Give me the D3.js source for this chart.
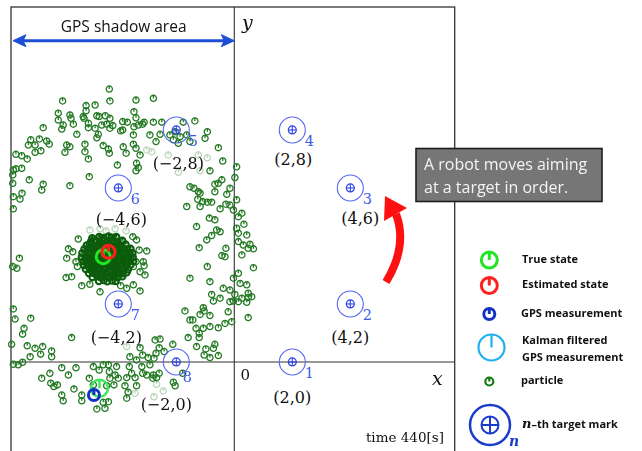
<!DOCTYPE html>
<html>
<head>
<meta charset="utf-8">
<script src="https://cdn.jsdelivr.net/npm/d3@7"></script>
<style>
  html, body { margin: 0; padding: 0; background: #fff; }
  svg { display: block; }
</style>
</head>
<body>
<svg id="chart" width="642" height="451"></svg>
<script>
// ---------- data (world coordinates, metres) ----------
const targetX = [2, 4, 4, 2, -2, -4, -4, -2];
const targetY = [0, 2, 6, 8, 8, 6, 2, 0];
const targetNumbers = ["1", "2", "3", "4", "5", "6", "7", "8"];
const targetCoordLabels = ["(2,0)", "(4,2)", "(4,6)", "(2,8)", "(−2,8)", "(−4,6)", "(−4,2)", "(−2,0)"];

// robot states [x, y, heading in degrees]
const trueState = [-4.52, 3.63, 90];
const estimatedState = [-4.34, 3.80, 90];
const gpsMeasurement = [-4.84, -1.14, 90];
const trueStateTrail = [-4.65, -0.91, 90];

// scattered particles
const particles = [
  [-4.31,9.41],[-5.92,9.00],[-4.29,9.00],[-5.11,8.84],[-4.80,8.86],[-5.11,8.66],[-6.07,8.58],[-5.67,8.52],
  [-5.21,8.46],[-4.74,8.49],[-4.45,8.49],[-6.07,8.34],[-5.63,8.40],[-5.18,8.40],[-4.66,8.46],[-4.29,8.40],
  [-5.90,8.17],[-5.55,8.20],[-5.03,8.23],[-4.57,8.17],[-4.40,8.20],[-4.19,8.15],[-6.59,8.08],[-5.95,8.03],
  [-5.03,8.08],[-4.80,8.06],[-4.29,8.06],[-3.92,7.97],[-5.43,7.85],[-4.69,7.85],[-4.74,7.73],[-7.02,7.66],
  [-6.72,7.69],[-6.47,7.62],[-6.38,7.51],[-7.10,7.48],[-6.87,7.48],[-5.78,7.48],[-5.67,7.42],[-5.15,7.51],
  [-4.52,7.46],[-4.34,7.34],[-6.87,7.23],[-6.67,7.28],[-5.84,7.23],[-5.15,7.25],[-4.31,7.20],[-7.53,7.16],
  [-7.33,7.11],[-7.14,7.00],[-5.03,7.00],[-4.03,6.79],[-7.62,6.62],[-7.53,6.66],[-7.33,6.68],[-7.64,6.45],
  [-5.00,6.39],[-7.07,6.28],[-7.64,6.16],[-6.59,6.13],[-6.64,5.93],[-5.67,6.08],[-7.32,5.82],[-7.62,5.70],
  [-7.39,5.62],[-7.62,5.28],
  [-3.39,9.03],[-2.79,9.09],[-3.46,8.63],[-3.39,8.42],[-3.85,8.29],[-3.69,8.27],[-3.46,8.11],[-3.31,8.17],
  [-3.16,8.20],[-3.11,8.27],[-2.79,8.27],[-2.50,8.27],[-1.76,8.27],[-1.36,8.31],[-3.85,8.00],[-3.48,7.83],
  [-2.91,7.83],[-2.56,7.85],[-2.22,7.83],[-2.04,7.94],[-1.87,7.77],[-1.64,7.83],[-0.93,7.94],[-1.01,7.71],
  [-2.70,7.60],[-2.10,7.66],[-1.93,7.54],[-1.53,7.60],[-3.48,7.51],[-3.39,7.37],[-3.83,7.42],[-3.73,7.20],
  [-0.55,7.39],[-3.25,7.14],[-0.40,6.93],[-3.37,6.85],[-3.31,6.70],[-3.39,6.59],[-0.84,6.59],[0.08,6.73],
  [0.02,6.36],[-0.43,6.28],[-0.67,6.13],[-0.55,6.16],[-1.53,6.04],[-1.39,5.99],[-1.24,5.87],[-1.18,5.82],
  [-0.15,5.99],[-0.67,5.87],[-0.26,5.78],[-1.26,5.61],[-1.09,5.53],[-0.93,5.51],[-0.78,5.51],[0.08,5.59],
  [-0.29,5.44],[-1.64,5.36],[-1.18,5.36],[-0.49,5.28],[-0.15,5.41],[-0.03,5.24],[0.26,5.13],[0.14,5.01],
  [-0.86,4.96],[-0.67,4.90],[-1.30,4.67],[-0.61,4.55],[-0.49,4.49],[0.08,4.61],[0.33,4.75],[0.14,4.44],
  [-0.78,4.36],[-0.95,4.21],[0.43,4.38],[-1.21,3.94],[-0.29,3.92],[0.14,4.15],[0.31,4.03],[0.54,4.06],
  [0.48,3.92],[0.66,3.90],[-0.43,3.67],[-0.32,3.63],[0.26,3.69],[-0.93,3.29],[0.66,3.25],[0.14,3.06],
  [-0.03,2.89],[-1.53,2.89],[-0.84,2.77],[0.20,2.71],[0.43,2.66],[-0.38,2.54],[-0.15,2.48],[0.02,2.33],
  [0.48,2.37],[0.60,2.25],[-0.78,2.33],
  [-7.41,3.58],[-7.50,3.23],[-7.64,3.29],
  [-5.38,4.24],[-5.72,3.90],[-5.57,3.80],[-5.78,3.58],[-5.46,3.46],[-5.41,3.29],[-3.37,4.21],[-3.28,3.86],
  [-3.02,3.83],[-3.14,3.46],[-3.11,3.32],[-3.08,3.00],[-3.25,3.11],[-5.80,2.91],[-5.61,2.94],[-5.26,2.63],
  [-4.98,2.68],[-4.63,2.42],[-3.71,2.54],[-3.48,2.66],[-3.25,2.45],[-3.92,2.63],[-3.50,4.32],[-3.48,3.29],
  [-3.39,3.46],
  [-7.62,1.83],[-7.56,1.48],[-7.02,1.51],[-7.25,1.16],[-7.30,0.96],[-7.68,0.61],[-7.14,0.56],[-6.87,0.47],
  [-6.61,0.53],[-7.04,0.18],[-6.68,0.27],[-6.30,0.38],[-6.30,0.18],[-5.61,0.84],[-7.62,-0.08],[-7.45,-0.10],
  [-7.30,-0.01],[-5.95,-0.20],[-5.46,-0.20],[-4.86,-0.16],[-6.64,-0.56],[-6.36,-0.39],[-6.33,-0.73],[-5.72,-0.45],
  [-5.00,-0.56],[-6.22,-0.85],[-6.10,-0.79],[-5.53,-0.93],[-5.95,-1.14],[-5.90,-1.34],[-5.26,-1.14],[-5.26,-1.34],
  [-4.74,-1.62],[-4.46,-1.60],[-4.52,-1.39],[-4.34,-1.37],[-4.66,-0.28],[-4.52,-0.10],[-4.34,-0.10],[-4.06,-0.16],
  [-4.31,-0.33],[-4.11,-0.45],[-4.00,-0.56],[-4.29,-0.56],[-4.15,-0.79],[-4.40,-0.82],[-4.86,-0.79],[-3.60,0.18],
  [-3.62,-0.16],[-3.54,-0.39],[-3.71,-0.54],[-3.42,-0.54],[-3.77,-0.82],[-3.66,-1.04],[-3.71,-1.25],[-3.37,-0.82],
  [-3.37,0.07],[-3.19,-0.16],[-3.16,-0.39],[-3.02,-0.45],[-3.25,0.49],[-3.16,0.24],[-2.97,0.15],[-2.91,-0.10],
  [-2.79,-0.45],[-2.81,-0.56],[-2.68,-0.54],[-2.59,-0.39],[-2.77,0.13],[-2.70,0.30],[-2.59,0.49],[-2.73,0.76],
  [-2.56,0.79],[-2.42,0.36],[-2.12,0.61],[-2.10,-0.70],[-2.04,-0.82],[-1.78,-0.39],[-1.70,1.76],[-1.53,1.45],
  [-1.43,1.45],[-1.18,1.64],[-1.04,1.76],[-0.84,1.60],[-1.07,1.87],[-0.72,2.10],[-0.49,2.20],[-0.21,1.73],
  [-0.15,2.08],[0.48,1.53],[-1.32,1.16],[-1.21,0.99],[-1.07,1.16],[-0.84,1.22],[-0.55,1.18],[-0.32,1.33],
  [-0.09,1.39],[-1.59,0.84],[-1.21,0.84],[-1.30,0.53],[-0.98,0.45],[-0.72,0.47],[-0.67,0.61],[-1.04,0.24],
  [-0.84,0.15],[-0.55,0.22],[-0.03,2.10],[0.14,2.08],[0.43,2.06],[0.48,2.22],[0.26,2.20]
];

// low-weight particles, drawn pale
const fadedParticles = [
  [-3.02,7.31],[-2.85,7.25],[-2.28,7.14],[-1.24,7.14],[-0.93,7.04],[-1.93,6.54],[-1.18,6.59],[-3.73,4.52],
  [-4.98,4.55],[-4.63,4.59],[-4.42,4.52],[-4.11,4.59],
  [-3.42,-1.08],[-2.68,-0.77],[-2.45,-1.00],[-2.77,-1.20],[-3.71,0.53]
];

// converged particle cloud around the robot
const cloudParticles = [
  [-4.66,4.31],[-4.51,4.28],[-4.34,4.33],[-4.22,4.29],[-4.07,4.31],[-4.90,4.27],
  [-4.94,4.16],[-4.77,4.19],[-4.63,4.15],[-4.47,4.18],[-4.34,4.16],[-4.18,4.19],[-4.03,4.15],[-3.86,4.18],
  [-5.09,4.02],[-4.93,4.05],[-4.80,4.01],[-4.64,4.04],[-4.51,4.02],[-4.35,4.05],[-4.22,4.01],[-4.06,4.04],[-3.93,4.02],[-3.75,4.05],
  [-5.17,3.89],[-5.00,3.92],[-4.87,3.88],[-4.71,3.91],[-4.58,3.89],[-4.42,3.92],[-4.29,3.88],[-4.13,3.91],[-4.00,3.89],[-3.84,3.92],[-3.71,3.88],[-3.58,3.91],
  [-5.24,3.75],[-5.07,3.78],[-4.95,3.74],[-4.78,3.77],[-4.66,3.75],[-4.49,3.78],[-4.36,3.74],[-4.20,3.77],[-4.07,3.75],[-3.91,3.78],[-3.78,3.74],[-3.62,3.77],[-3.51,3.75],
  [-5.26,3.61],[-5.10,3.64],[-4.97,3.60],[-4.81,3.63],[-4.68,3.61],[-4.52,3.64],[-4.39,3.60],[-4.23,3.63],[-4.10,3.61],[-3.94,3.64],[-3.81,3.60],[-3.65,3.63],[-3.50,3.61],
  [-5.21,3.47],[-5.08,3.50],[-4.92,3.46],[-4.79,3.49],[-4.63,3.47],[-4.50,3.50],[-4.34,3.46],[-4.21,3.49],[-4.05,3.47],[-3.92,3.50],[-3.76,3.46],[-3.63,3.49],[-3.48,3.47],
  [-5.19,3.34],[-5.03,3.37],[-4.90,3.33],[-4.74,3.36],[-4.61,3.34],[-4.45,3.37],[-4.32,3.33],[-4.16,3.36],[-4.03,3.34],[-3.87,3.37],[-3.74,3.33],[-3.57,3.36],
  [-5.12,3.20],[-4.99,3.23],[-4.83,3.19],[-4.70,3.22],[-4.54,3.20],[-4.41,3.23],[-4.25,3.19],[-4.12,3.22],[-3.96,3.20],[-3.83,3.23],[-3.67,3.19],
  [-5.01,3.06],[-4.88,3.09],[-4.72,3.05],[-4.59,3.08],[-4.43,3.06],[-4.30,3.09],[-4.14,3.05],[-4.01,3.08],[-3.85,3.06],[-3.71,3.09],
  [-4.89,2.93],[-4.73,2.96],[-4.60,2.92],[-4.44,2.95],[-4.31,2.93],[-4.15,2.96],[-4.02,2.92],[-3.86,2.95],
  [-4.67,2.79],[-4.50,2.82],[-4.38,2.78],[-4.21,2.81],[-4.09,2.79]
];

const legendLabels = ["True state", "Estimated state", "GPS measurement", "Kalman filtered", "particle"];
const calloutLines = ["A robot moves aiming", "at a target in order."];
const timeLabel = "time 440[s]";
const shadowLabel = "GPS shadow area";

// ---------- drawing ----------
const svg = d3.select("#chart");
const x = d3.scaleLinear().domain([-7.7, 7.6]).range([11, 454.7]);
const y = d3.scaleLinear().domain([-3.07, 12.24]).range([451, 7]);

const SERIF = "'DejaVu Serif', 'Liberation Serif', serif";
const SANS = "'Open Sans', 'Liberation Sans', sans-serif";

// frame and axes
svg.append("rect")
  .attr("x", x(-7.7)).attr("y", y(12.24))
  .attr("width", x(7.6) - x(-7.7)).attr("height", 460)
  .attr("fill", "none").attr("stroke", "#333").attr("stroke-width", 1.3);
svg.append("line")
  .attr("x1", x(-7.7)).attr("x2", x(7.6)).attr("y1", y(0)).attr("y2", y(0))
  .attr("stroke", "#333").attr("stroke-width", 1.1);
svg.append("line")
  .attr("x1", x(0)).attr("x2", x(0)).attr("y1", y(12.24)).attr("y2", 451)
  .attr("stroke", "#333").attr("stroke-width", 1.1);

// robot-style marker: ring plus a heading stroke from the centre
function robotMark(sel, r, color, width) {
  sel.append("circle").attr("r", r).attr("fill", "none")
    .attr("stroke", color).attr("stroke-width", width);
  sel.append("line")
    .attr("x1", 0).attr("y1", 0)
    .attr("x2", d => r * Math.cos((d[2] ?? 90) * Math.PI / 180))
    .attr("y2", d => -r * Math.sin((d[2] ?? 90) * Math.PI / 180))
    .attr("stroke", color).attr("stroke-width", width);
}

function drawParticles(data, color, opacity, width) {
  const g = svg.append("g").attr("opacity", opacity);
  const p = g.selectAll("g").data(data).join("g")
    .attr("transform", d => `translate(${x(d[0])},${y(d[1])})`);
  robotMark(p, 3.1, color, width);
}
drawParticles(fadedParticles, "#3c8c3c", 0.35, 1.3);
drawParticles(particles, "#237a23", 1, 1.3);
drawParticles(cloudParticles, "#0b5c0b", 1, 2.1);

// target marks
const targets = targetX.map((tx, i) => ({ x: tx, y: targetY[i], n: targetNumbers[i], label: targetCoordLabels[i] }));
const labelNudge = [[0, 35], [0, 33], [10, 30], [1, 29], [2, 33], [3, 31], [-2, 33], [-10, 42]];
const tg = svg.append("g").selectAll("g").data(targets).join("g")
  .attr("transform", d => `translate(${x(d.x)},${y(d.y)})`);
tg.append("circle").attr("r", 13).attr("fill", "none").attr("stroke", "#5566f2").attr("stroke-width", 1.1);
tg.append("circle").attr("r", 4).attr("fill", "none").attr("stroke", "#2f44e6").attr("stroke-width", 1.2);
tg.append("line").attr("x1", -4).attr("x2", 4).attr("stroke", "#2f44e6").attr("stroke-width", 1.1);
tg.append("line").attr("y1", -4).attr("y2", 4).attr("stroke", "#2f44e6").attr("stroke-width", 1.1);
tg.append("text").text(d => d.n)
  .attr("x", (d, i) => i === 7 ? 11 : 17).attr("y", (d, i) => i === 7 ? 15 : 11)
  .attr("dy", "0.35em").attr("text-anchor", "middle")
  .attr("font-family", SERIF).attr("font-size", 14.5).attr("fill", "#3a5ae6");
tg.append("text").text(d => d.label)
  .attr("x", (d, i) => labelNudge[i][0]).attr("y", (d, i) => labelNudge[i][1])
  .attr("dy", "0.35em").attr("text-anchor", "middle")
  .attr("font-family", SERIF).attr("font-size", 16).attr("fill", "#111");

// robot state markers
function stateMark(state, r, color, width) {
  const g = svg.append("g").datum(state)
    .attr("transform", d => `translate(${x(d[0])},${y(d[1])})`);
  robotMark(g, r, color, width);
}
stateMark(trueStateTrail, 8.5, "#3de85a", 2.5);
stateMark(gpsMeasurement, 5.5, "#1232c4", 3);
stateMark(trueState, 7, "#22e622", 3);
stateMark(estimatedState, 6.5, "#ff1f1f", 3);

// axis annotations
svg.append("text").text("0").attr("x", x(0) + 11).attr("y", y(0) + 13).attr("dy", "0.35em")
  .attr("text-anchor", "middle").attr("font-family", SERIF).attr("font-size", 15).attr("fill", "#111");
svg.append("text").text("x").attr("x", x(7.0)).attr("y", y(0) + 16).attr("dy", "0.35em")
  .attr("text-anchor", "middle").attr("font-family", SERIF).attr("font-style", "italic")
  .attr("font-size", 19).attr("fill", "#111");
svg.append("text").text("y").attr("x", x(0) + 13).attr("y", 22).attr("dy", "0.35em")
  .attr("text-anchor", "middle").attr("font-family", SERIF).attr("font-style", "italic")
  .attr("font-size", 19).attr("fill", "#111");
svg.append("text").text(timeLabel).attr("x", 444).attr("y", 437).attr("dy", "0.35em")
  .attr("text-anchor", "end").attr("font-family", SERIF).attr("font-size", 13.5).attr("fill", "#111");

// GPS shadow area span
const arrowY = 40.7, blue = "#1c4fd6";
const xs0 = x(-7.7) + 2, xs1 = x(0);
svg.append("line").attr("x1", xs0 + 8).attr("x2", xs1 - 8).attr("y1", arrowY).attr("y2", arrowY)
  .attr("stroke", blue).attr("stroke-width", 3);
svg.append("path").attr("d", `M${xs0},${arrowY} L${xs0 + 13},${arrowY - 6} L${xs0 + 10},${arrowY} L${xs0 + 13},${arrowY + 6} Z`)
  .attr("fill", blue).attr("stroke", blue).attr("stroke-width", 1);
svg.append("path").attr("d", `M${xs1},${arrowY} L${xs1 - 13},${arrowY - 6} L${xs1 - 10},${arrowY} L${xs1 - 13},${arrowY + 6} Z`)
  .attr("fill", blue).attr("stroke", blue).attr("stroke-width", 1);
svg.append("text").text(shadowLabel).attr("x", (xs0 + xs1) / 2).attr("y", 27).attr("dy", "0.35em")
  .attr("text-anchor", "middle").attr("font-family", SANS).attr("font-size", 15.5).attr("fill", "#111");

// callout
svg.append("rect").attr("x", 416).attr("y", 148.5).attr("width", 186).attr("height", 53)
  .attr("fill", "#767676").attr("stroke", "#1e1e1e").attr("stroke-width", 1.6);
svg.append("text").attr("font-family", SANS).attr("font-size", 16).attr("fill", "#f4f4f4")
  .selectAll("tspan").data(calloutLines).join("tspan")
  .attr("x", 424).attr("y", (d, i) => 169.5 + i * 23.5).text(d => d);

// red direction arrow
svg.append("path").attr("d", "M386,282 Q408,246 396,214")
  .attr("fill", "none").attr("stroke", "#ff1010").attr("stroke-width", 8);
svg.append("path").attr("d", "M385,196 L407,208 L384,221 Z").attr("fill", "#ff1010");

// legend
const lg = svg.append("g");
const legendMarks = [
  { y: 260, r: 8, color: "#22e622", w: 3, text: legendLabels[0], tx: 522 },
  { y: 285.5, r: 8, color: "#ff1f1f", w: 3, text: legendLabels[1], tx: 522 },
  { y: 314, r: 5.5, color: "#1232c4", w: 3, text: legendLabels[2], tx: 521 },
  { y: 347.5, r: 13, color: "#1fb0f0", w: 2.2, text: null, tx: 522 },
  { y: 381.5, r: 4, color: "#127a12", w: 2.2, text: legendLabels[4], tx: 521 }
];
legendMarks.forEach(m => {
  const g = lg.append("g").datum([0, 0, 90]).attr("transform", `translate(${m.r > 10 ? 491.5 : 489.3},${m.y})`);
  robotMark(g, m.r, m.color, m.w);
  if (m.text) {
    lg.append("text").text(m.text).attr("x", m.tx).attr("y", m.y - 1).attr("dy", "0.35em")
      .attr("font-family", SANS).attr("font-weight", 700).attr("font-size", 11).attr("fill", "#111");
  }
});
lg.append("text").text(legendLabels[3]).attr("x", 522).attr("y", 340).attr("dy", "0.35em")
  .attr("font-family", SANS).attr("font-weight", 700).attr("font-size", 11).attr("fill", "#111");
lg.append("text").text(legendLabels[2]).attr("x", 522).attr("y", 357.5).attr("dy", "0.35em")
  .attr("font-family", SANS).attr("font-weight", 700).attr("font-size", 11).attr("fill", "#111");

// target mark legend entry
const tl = lg.append("g").attr("transform", "translate(490,425)");
tl.append("circle").attr("r", 20).attr("fill", "none").attr("stroke", "#1a3ccc").attr("stroke-width", 2.5);
tl.append("circle").attr("r", 8.5).attr("fill", "none").attr("stroke", "#1a3ccc").attr("stroke-width", 2);
tl.append("line").attr("x1", -8.5).attr("x2", 8.5).attr("stroke", "#1a3ccc").attr("stroke-width", 2);
tl.append("line").attr("y1", -8.5).attr("y2", 8.5).attr("stroke", "#1a3ccc").attr("stroke-width", 2);
lg.append("text").text("n").attr("x", 509).attr("y", 441).attr("dy", "0.35em")
  .attr("font-family", SERIF).attr("font-style", "italic").attr("font-weight", 700)
  .attr("font-size", 14).attr("fill", "#1a3ccc");
const tt = lg.append("text").attr("x", 522).attr("y", 424).attr("dy", "0.35em")
  .attr("font-family", SANS).attr("font-weight", 700).attr("font-size", 11).attr("fill", "#111");
tt.append("tspan").text("n").attr("font-family", SERIF).attr("font-style", "italic").attr("font-size", 13);
tt.append("tspan").text("–th target mark");
</script>
</body>
</html>
